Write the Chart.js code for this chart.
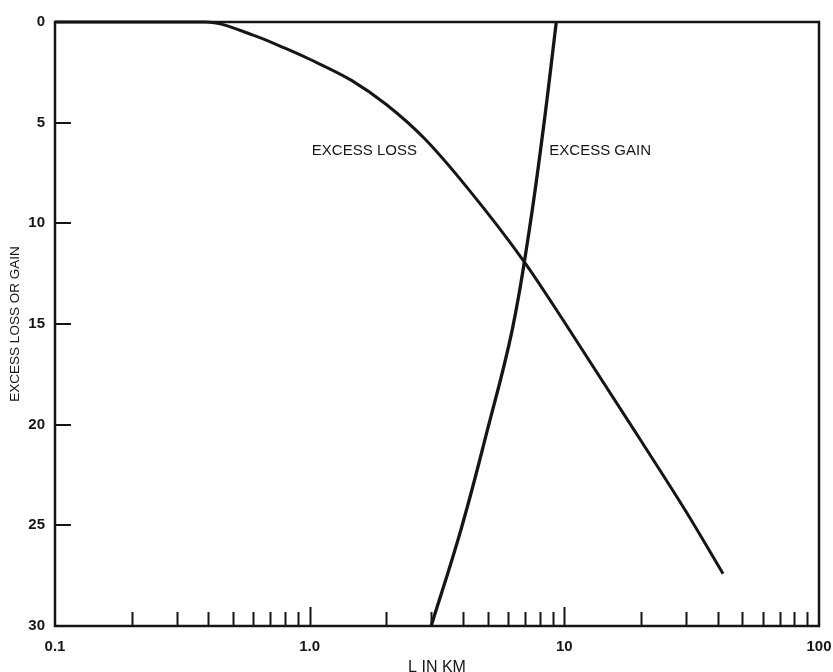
<!DOCTYPE html>
<html>
<head>
<meta charset="utf-8">
<script src="https://cdn.jsdelivr.net/npm/chart.js@4"></script>
<style>
  html, body { margin: 0; padding: 0; background: #fff; }
  #wrap { width: 833px; height: 672px; }
</style>
</head>
<body>
<div id="wrap"><canvas id="chart"></canvas></div>
<script>
// curve (x = L in km, y = excess loss/gain)
const lossX = [0.1, 0.39, 0.6, 0.8, 1.0, 1.46, 2.0, 2.83, 4.2, 6.95, 10, 20, 30, 42];
const lossY = [0, 0, 0.65, 1.3, 1.85, 2.9, 4.1, 5.8, 8.3, 11.9, 14.9, 20.8, 24.3, 27.4];

const gainX = [3.0, 3.93, 4.98, 6.24, 7.27, 8.25, 9.3];
const gainY = [30, 25.2, 20.3, 15.3, 10.4, 5.4, 0];

// axis ticks
const xLabelValues = [0.1, 1, 10, 100];
const xLabels = ['0.1', '1.0', '10', '100'];
const xMinorTicks = [0.2, 0.3, 0.4, 0.5, 0.6, 0.7, 0.8, 0.9, 1,
                     2, 3, 4, 5, 6, 7, 8, 9, 10,
                     20, 30, 40, 50, 60, 70, 80, 90];
const xMajorTicks = [1, 10];
const yTickValues = [0, 5, 10, 15, 20, 25, 30];
const yTickLabels = ['0', '5', '10', '15', '20', '25', '30'];
const yMinorTicks = [5, 10, 15, 20, 25];

// curve names written inside the plot
const curveNames = ['EXCESS LOSS', 'EXCESS GAIN'];
const curveNameX = [1.02, 8.73];
const curveNameY = [6.4, 6.4];

const INK = '#151515';
const FONT = '"Liberation Sans", Arial, Helvetica, sans-serif';

// box around the plot, inward tick marks and curve names
const framePlugin = {
  id: 'frame',
  afterDatasetsDraw(chart) {
    const { ctx, chartArea: a, scales: { x, y } } = chart;
    ctx.save();
    ctx.strokeStyle = INK;
    ctx.lineWidth = 2.5;
    ctx.strokeRect(a.left, a.top, a.right - a.left, a.bottom - a.top);

    ctx.lineWidth = 2;
    ctx.beginPath();
    xMinorTicks.forEach(v => {
      const px = Math.round(x.getPixelForValue(v)) + 0.5;
      const len = xMajorTicks.includes(v) ? 19 : 14;
      ctx.moveTo(px, a.bottom);
      ctx.lineTo(px, a.bottom - len);
    });
    yMinorTicks.forEach(v => {
      const py = Math.round(y.getPixelForValue(v));
      ctx.moveTo(a.left, py);
      ctx.lineTo(a.left + 16, py);
    });
    ctx.stroke();

    ctx.fillStyle = INK;
    ctx.font = '15px ' + FONT;
    ctx.textAlign = 'left';
    ctx.textBaseline = 'middle';
    curveNames.forEach((t, i) => {
      ctx.fillText(t, x.getPixelForValue(curveNameX[i]), y.getPixelForValue(curveNameY[i]));
    });
    ctx.restore();
  }
};

const ctx = document.getElementById('chart').getContext('2d');
new Chart(ctx, {
  type: 'scatter',
  data: {
    datasets: [{
      label: 'EXCESS LOSS',
      data: lossX.map((v, i) => ({ x: v, y: lossY[i] })),
      showLine: true,
      borderColor: INK,
      borderWidth: 3,
      pointRadius: 0,
      cubicInterpolationMode: 'monotone',
      clip: false
    }, {
      label: 'EXCESS GAIN',
      data: gainX.map((v, i) => ({ x: v, y: gainY[i] })),
      showLine: true,
      borderColor: INK,
      borderWidth: 3.3,
      pointRadius: 0,
      tension: 0.4,
      clip: false
    }]
  },
  options: {
    responsive: true,
    maintainAspectRatio: false,
    animation: false,
    layout: { padding: { top: 22, right: 14, left: 0, bottom: 0 } },
    plugins: {
      legend: { display: false },
      tooltip: { enabled: false }
    },
    scales: {
      x: {
        type: 'logarithmic',
        min: 0.1,
        max: 100,
        afterBuildTicks: s => { s.ticks = xLabelValues.map(v => ({ value: v })); },
        afterFit: s => { s.height = 46; s.paddingLeft = 0; s.paddingRight = 0; },
        grid: { display: false },
        border: { display: false },
        ticks: {
          autoSkip: false,
          maxRotation: 0,
          padding: 4,
          color: INK,
          font: { family: FONT, size: 15, weight: 'bold' },
          callback: (v, i) => xLabels[i]
        },
        title: {
          display: true,
          text: 'L IN KM',
          color: INK,
          padding: { top: 0, bottom: -5 },
          font: { family: FONT, size: 16 }
        }
      },
      y: {
        reverse: true,
        min: 0,
        max: 30,
        afterBuildTicks: s => { s.ticks = yTickValues.map(v => ({ value: v })); },
        afterFit: s => { s.width = 55; },
        grid: { display: false },
        border: { display: false },
        ticks: {
          padding: 2,
          color: INK,
          font: { family: FONT, size: 15, weight: 'bold' },
          callback: (v, i) => yTickLabels[i]
        },
        title: {
          display: true,
          text: 'EXCESS LOSS OR GAIN',
          color: INK,
          padding: { top: 7, bottom: 0 },
          font: { family: FONT, size: 13.5 }
        }
      }
    }
  },
  plugins: [framePlugin]
});
</script>
</body>
</html>
